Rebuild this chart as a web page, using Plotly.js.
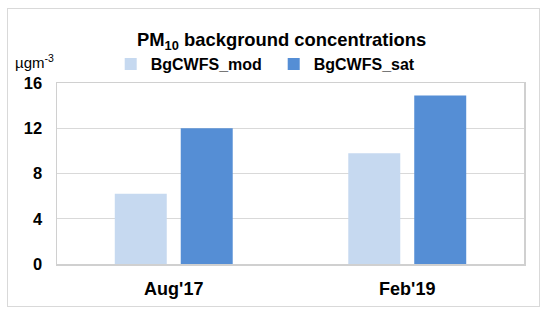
<!DOCTYPE html>
<html>
<head>
<meta charset="utf-8">
<script src="https://cdn.plot.ly/plotly-3.0.1.min.js"></script>
<style>
  body { margin: 0; background: #fff; }
  #wrap { position: relative; width: 550px; height: 315px; }
  #chart { width: 550px; height: 315px; }
  #frame {
    position: absolute; left: 7px; top: 8px; width: 531px; height: 297px;
    border: 1.5px solid #d9d9d9; pointer-events: none;
  }
</style>
</head>
<body>
<div id="wrap">
  <div id="chart"></div>
  <div id="frame"></div>
</div>
<script>
// periods on the x axis
const periods = ["Aug'17", "Feb'19"];
// background PM10 concentrations (µg m-3)
const bgMod = [6.2, 9.8];
const bgSat = [12.0, 14.9];
const yTicks = [0, 4, 8, 12, 16];

const data = [
  {
    x: periods, y: bgMod, name: "BgCWFS_mod", type: "bar",
    marker: {color: "#c6d9f0"}
  },
  {
    x: periods, y: bgSat, name: "BgCWFS_sat", type: "bar",
    marker: {color: "#558ed5"}
  }
];

const layout = {
  width: 550, height: 315,
  margin: {l: 57, r: 26, t: 83, b: 51},
  paper_bgcolor: "#fff", plot_bgcolor: "#fff",
  font: {family: "Liberation Sans, Arial, sans-serif", color: "#000"},
  title: {
    text: "<b>PM<sub>10</sub> background concentrations</b>",
    font: {size: 18.4, color: "#000"},
    x: 0.512, xanchor: "center",
    y: 1 - 40 / 315, yanchor: "middle"
  },
  showlegend: true,
  legend: {
    orientation: "h",
    x: 0.115, xanchor: "left",
    y: 1.01, yanchor: "bottom",
    font: {size: 16, color: "#000", weight: "bold"},
    entrywidth: 118, entrywidthmode: "pixels",
    itemwidth: 30
  },
  bargap: 0.435,
  bargroupgap: 0.212,
  xaxis: {
    type: "category",
    tickfont: {size: 18, weight: "bold"},
    showline: true, linecolor: "#d0d0d0", linewidth: 1.5,
    ticks: "", showgrid: false, mirror: true,
    ticklabelstandoff: 8
  },
  yaxis: {
    range: [0, 16],
    tickvals: yTicks,
    tickfont: {size: 16.5, weight: "bold"},
    showgrid: true, gridcolor: "#d9d9d9", gridwidth: 1,
    showline: true, linecolor: "#d0d0d0", linewidth: 1.5, mirror: true,
    zeroline: false, ticks: "", ticklabelstandoff: 10
  },
  annotations: [{
    text: "µgm<sup>-3</sup>",
    xref: "paper", yref: "paper",
    x: -57 / 467 + 13 / 467, xanchor: "left",
    y: 1 + 21 / 181, yanchor: "middle",
    showarrow: false,
    font: {size: 15, color: "#000"}
  }]
};

Plotly.newPlot("chart", data, layout, {displayModeBar: false, staticPlot: true});
</script>
</body>
</html>
